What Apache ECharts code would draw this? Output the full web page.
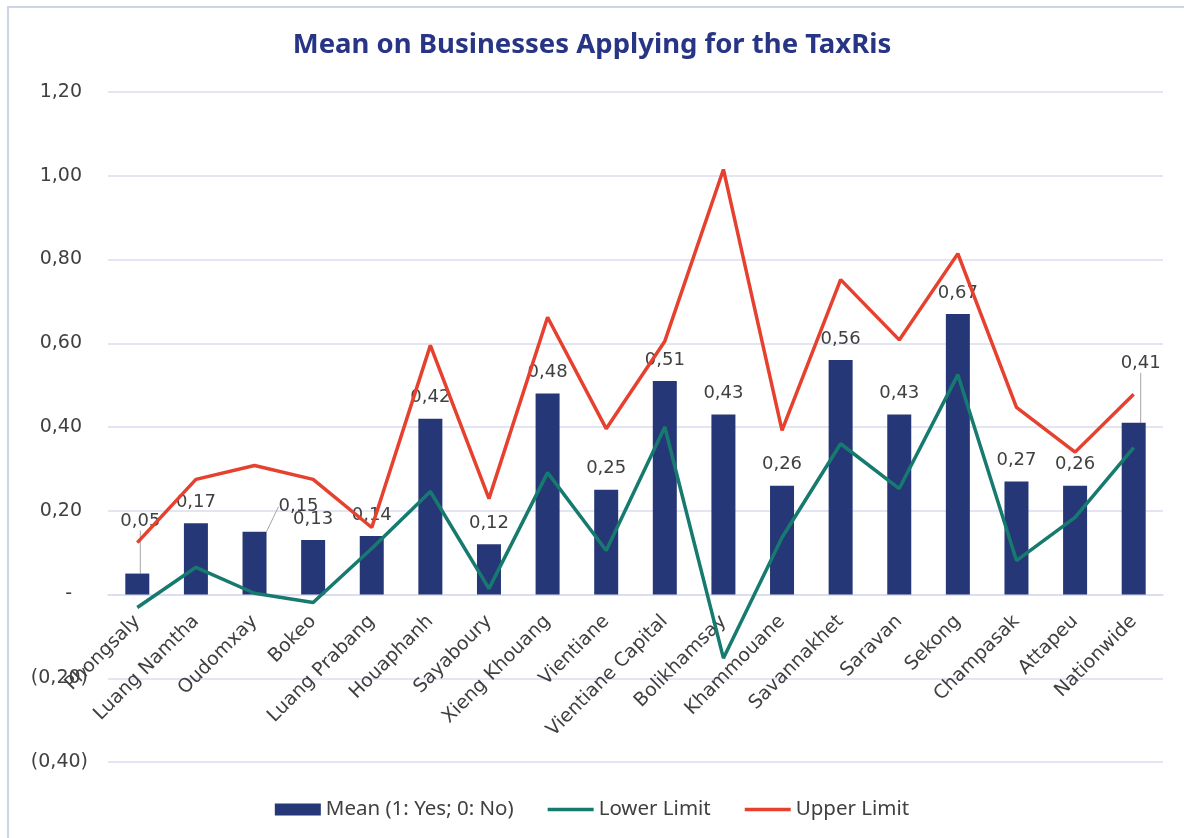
<!DOCTYPE html>
<html>
<head>
<meta charset="utf-8">
<script src="https://cdn.jsdelivr.net/npm/echarts@6/dist/echarts.min.js"></script>
<style>
html,body{margin:0;padding:0;background:#fff;}
#c{width:1184px;height:838px;}
</style>
</head>
<body>
<div id="c"></div>
<script>
var categories = ["Phongsaly","Luang Namtha","Oudomxay","Bokeo","Luang Prabang","Houaphanh","Sayaboury","Xieng Khouang","Vientiane","Vientiane Capital","Bolikhamsay","Khammouane","Savannakhet","Saravan","Sekong","Champasak","Attapeu","Nationwide"];
var meanValues = [0.05,0.17,0.15,0.13,0.14,0.42,0.12,0.48,0.25,0.51,0.43,0.26,0.56,0.43,0.67,0.27,0.26,0.41];
var lowerLimit = [-0.031,0.065,0.003,-0.019,0.11,0.246,0.014,0.291,0.105,0.40,-0.152,0.136,0.36,0.253,0.525,0.081,0.184,0.351];
var upperLimit = [0.124,0.275,0.308,0.275,0.16,0.595,0.229,0.662,0.396,0.605,1.015,0.392,0.752,0.608,0.814,0.447,0.34,0.478];
var seriesNames = ["Mean (1: Yes; 0: No)","Lower Limit","Upper Limit"];

var Y_MIN = -0.4, Y_MAX = 1.2;
var GRID = {left:108, right:21, top:92, bottom:76};
var H = 838;

// label nudges (layout only)
var labelShift = {0:[3,-31], 2:[44,-4], 17:[7,-38]};

var FONT = "DejaVu Sans";
var TFONT = "Noto Sans";
function fmt(v){ return Math.abs(v).toFixed(2).replace('.', ','); }

var barData = meanValues.map(function(v, i){
  return labelShift[i] ? {value:v, labelLine:{show:true}} : v;
});

// move the category axis up to the zero line
var plotH = H - GRID.top - GRID.bottom;
var zeroOffset = -plotH * (0 - Y_MIN) / (Y_MAX - Y_MIN);

var lineIcon = 'path://M0,0 L46,0 L46,3.5 L0,3.5 Z';

var chart = echarts.init(document.getElementById('c'), null, {renderer:'canvas'});
chart.setOption({
  backgroundColor:'#ffffff',
  animation:false,
  textStyle:{fontFamily:FONT},
  graphic:[{type:'rect', shape:{x:8,y:7,width:1200,height:850}, style:{fill:'none', stroke:'#cfd3e6', lineWidth:2}, z:-1}],
  title:{
    text:'Mean on Businesses Applying for the TaxRis',
    left:'center', top:26,
    textStyle:{fontFamily:TFONT, fontSize:27.5, fontWeight:'bold', color:'#283584'}
  },
  legend:{
    top:794, left:'center',
    itemWidth:46, itemHeight:12, itemGap:34,
    textStyle:{fontFamily:TFONT, fontSize:20.5, color:'#404040'},
    data:[
      {name:seriesNames[0], icon:'rect'},
      {name:seriesNames[1], icon:lineIcon},
      {name:seriesNames[2], icon:lineIcon}
    ]
  },
  grid:{left:GRID.left, right:GRID.right, top:GRID.top, bottom:GRID.bottom, containLabel:false, outerBoundsMode:'none'},
  xAxis:{
    type:'category',
    data:categories,
    offset:zeroOffset,
    axisLine:{show:true, onZero:false, lineStyle:{color:'#dadcef', width:1.5}},
    axisTick:{show:false},
    axisLabel:{interval:0, rotate:45, fontFamily:FONT, fontSize:19, color:'#404040', margin:24}
  },
  yAxis:{
    type:'value', min:Y_MIN, max:Y_MAX, interval:0.2,
    axisLine:{show:false}, axisTick:{show:false},
    splitLine:{lineStyle:{color:'#dadcef', width:1.5}},
    axisLabel:{
      margin:20,
      formatter:function(v){
        if (Math.abs(v) < 1e-9) return '{d|-}';
        if (v < 0) return '{n|(' + fmt(v) + ')}';
        return '{p|' + fmt(v) + '}';
      },
      rich:{
        p:{fontFamily:FONT, fontSize:19, color:'#404040', padding:[0,6,0,0]},
        n:{fontFamily:FONT, fontSize:19, color:'#404040'},
        d:{fontFamily:FONT, fontSize:19, color:'#404040', padding:[0,16,0,0]}
      }
    }
  },
  series:[
    {
      name:seriesNames[0], type:'bar', data:barData, barWidth:24,
      itemStyle:{color:'#263777'},
      label:{show:true, position:'top', distance:12, fontFamily:FONT, fontSize:18, color:'#404040',
        formatter:function(p){ return fmt(p.value); }},
      labelLine:{show:false, lineStyle:{color:'#a6a6a6', width:1}},
      labelLayout:function(params){
        var s = labelShift[params.dataIndex];
        if (s) return {dx:s[0], dy:s[1]};
        return {};
      },
      z:2
    },
    {
      name:seriesNames[1], type:'line', data:lowerLimit, symbol:'none',
      lineStyle:{color:'#167a6e', width:3.5}, itemStyle:{color:'#167a6e'}, z:3
    },
    {
      name:seriesNames[2], type:'line', data:upperLimit, symbol:'none',
      lineStyle:{color:'#e6402f', width:3.5}, itemStyle:{color:'#e6402f'}, z:3
    }
  ]
});
</script>
</body>
</html>
